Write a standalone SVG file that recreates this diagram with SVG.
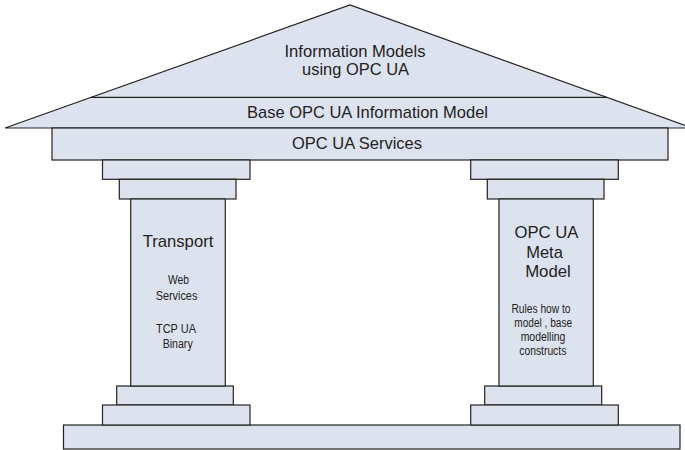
<svg xmlns="http://www.w3.org/2000/svg" width="685" height="450" viewBox="0 0 685 450">
<style>
.s{fill:#dde3ee;stroke:#222;stroke-width:1.2}
.t{font-family:"Liberation Sans",Arial,sans-serif;fill:#222;text-anchor:middle}
.b{font-size:17px}
.m{font-size:12.5px}
</style>
<rect width="685" height="450" fill="#fff"/>
<g id="roof">
<polygon class="s" points="5,128 350,5 692,128"/>
<line x1="91" y1="97.3" x2="607" y2="97.3" stroke="#222" stroke-width="1.2"/>
<text class="t b" x="355" y="57" textLength="141" lengthAdjust="spacingAndGlyphs">Information Models</text>
<text class="t b" x="355.5" y="75" textLength="107" lengthAdjust="spacingAndGlyphs">using OPC UA</text>
<text class="t b" x="367.5" y="118" textLength="241" lengthAdjust="spacingAndGlyphs">Base OPC UA Information Model</text>
</g>
<g id="services">
<rect class="s" x="52" y="128" width="616" height="32"/>
<text class="t b" x="357" y="149" textLength="130" lengthAdjust="spacingAndGlyphs">OPC UA Services</text>
</g>
<g id="plinth">
<rect class="s" x="63.5" y="425" width="616.5" height="24"/>
</g>
<g id="transport">
<rect class="s" x="102.5" y="160" width="147.5" height="19.3"/>
<rect class="s" x="119.3" y="179.3" width="116.7" height="19.7"/>
<rect class="s" x="116.7" y="386" width="116.6" height="19"/>
<rect class="s" x="102.5" y="405" width="147.5" height="20"/>
<rect class="s" x="130.7" y="199" width="94.6" height="187"/>
<text class="t b" x="178" y="246.5" textLength="70.7" lengthAdjust="spacingAndGlyphs">Transport</text>
<text class="t m" x="178.5" y="284" textLength="21" lengthAdjust="spacingAndGlyphs">Web</text>
<text class="t m" x="176.5" y="300" textLength="41.7" lengthAdjust="spacingAndGlyphs">Services</text>
<text class="t m" x="176" y="332.5" textLength="40" lengthAdjust="spacingAndGlyphs">TCP UA</text>
<text class="t m" x="177.7" y="348" textLength="30" lengthAdjust="spacingAndGlyphs">Binary</text>
</g>
<g id="metamodel">
<rect class="s" x="470.7" y="160" width="147.6" height="19.3"/>
<rect class="s" x="487.3" y="179.3" width="116.7" height="19.7"/>
<rect class="s" x="484.7" y="386" width="117" height="19"/>
<rect class="s" x="470.7" y="405" width="147.6" height="20"/>
<rect class="s" x="499" y="199" width="94.3" height="187"/>
<text class="t b" x="546.5" y="238" textLength="64" lengthAdjust="spacingAndGlyphs">OPC UA</text>
<text class="t b" x="544.5" y="258" textLength="36.7" lengthAdjust="spacingAndGlyphs">Meta</text>
<text class="t b" x="548" y="277" textLength="45.7" lengthAdjust="spacingAndGlyphs">Model</text>
<text class="t m" x="541" y="313" textLength="59" lengthAdjust="spacingAndGlyphs">Rules how to</text>
<text class="t m" x="543.2" y="327" textLength="57.7" lengthAdjust="spacingAndGlyphs">model , base</text>
<text class="t m" x="543" y="341" textLength="44.7" lengthAdjust="spacingAndGlyphs">modelling</text>
<text class="t m" x="542.8" y="355" textLength="47" lengthAdjust="spacingAndGlyphs">constructs</text>
</g>
</svg>
